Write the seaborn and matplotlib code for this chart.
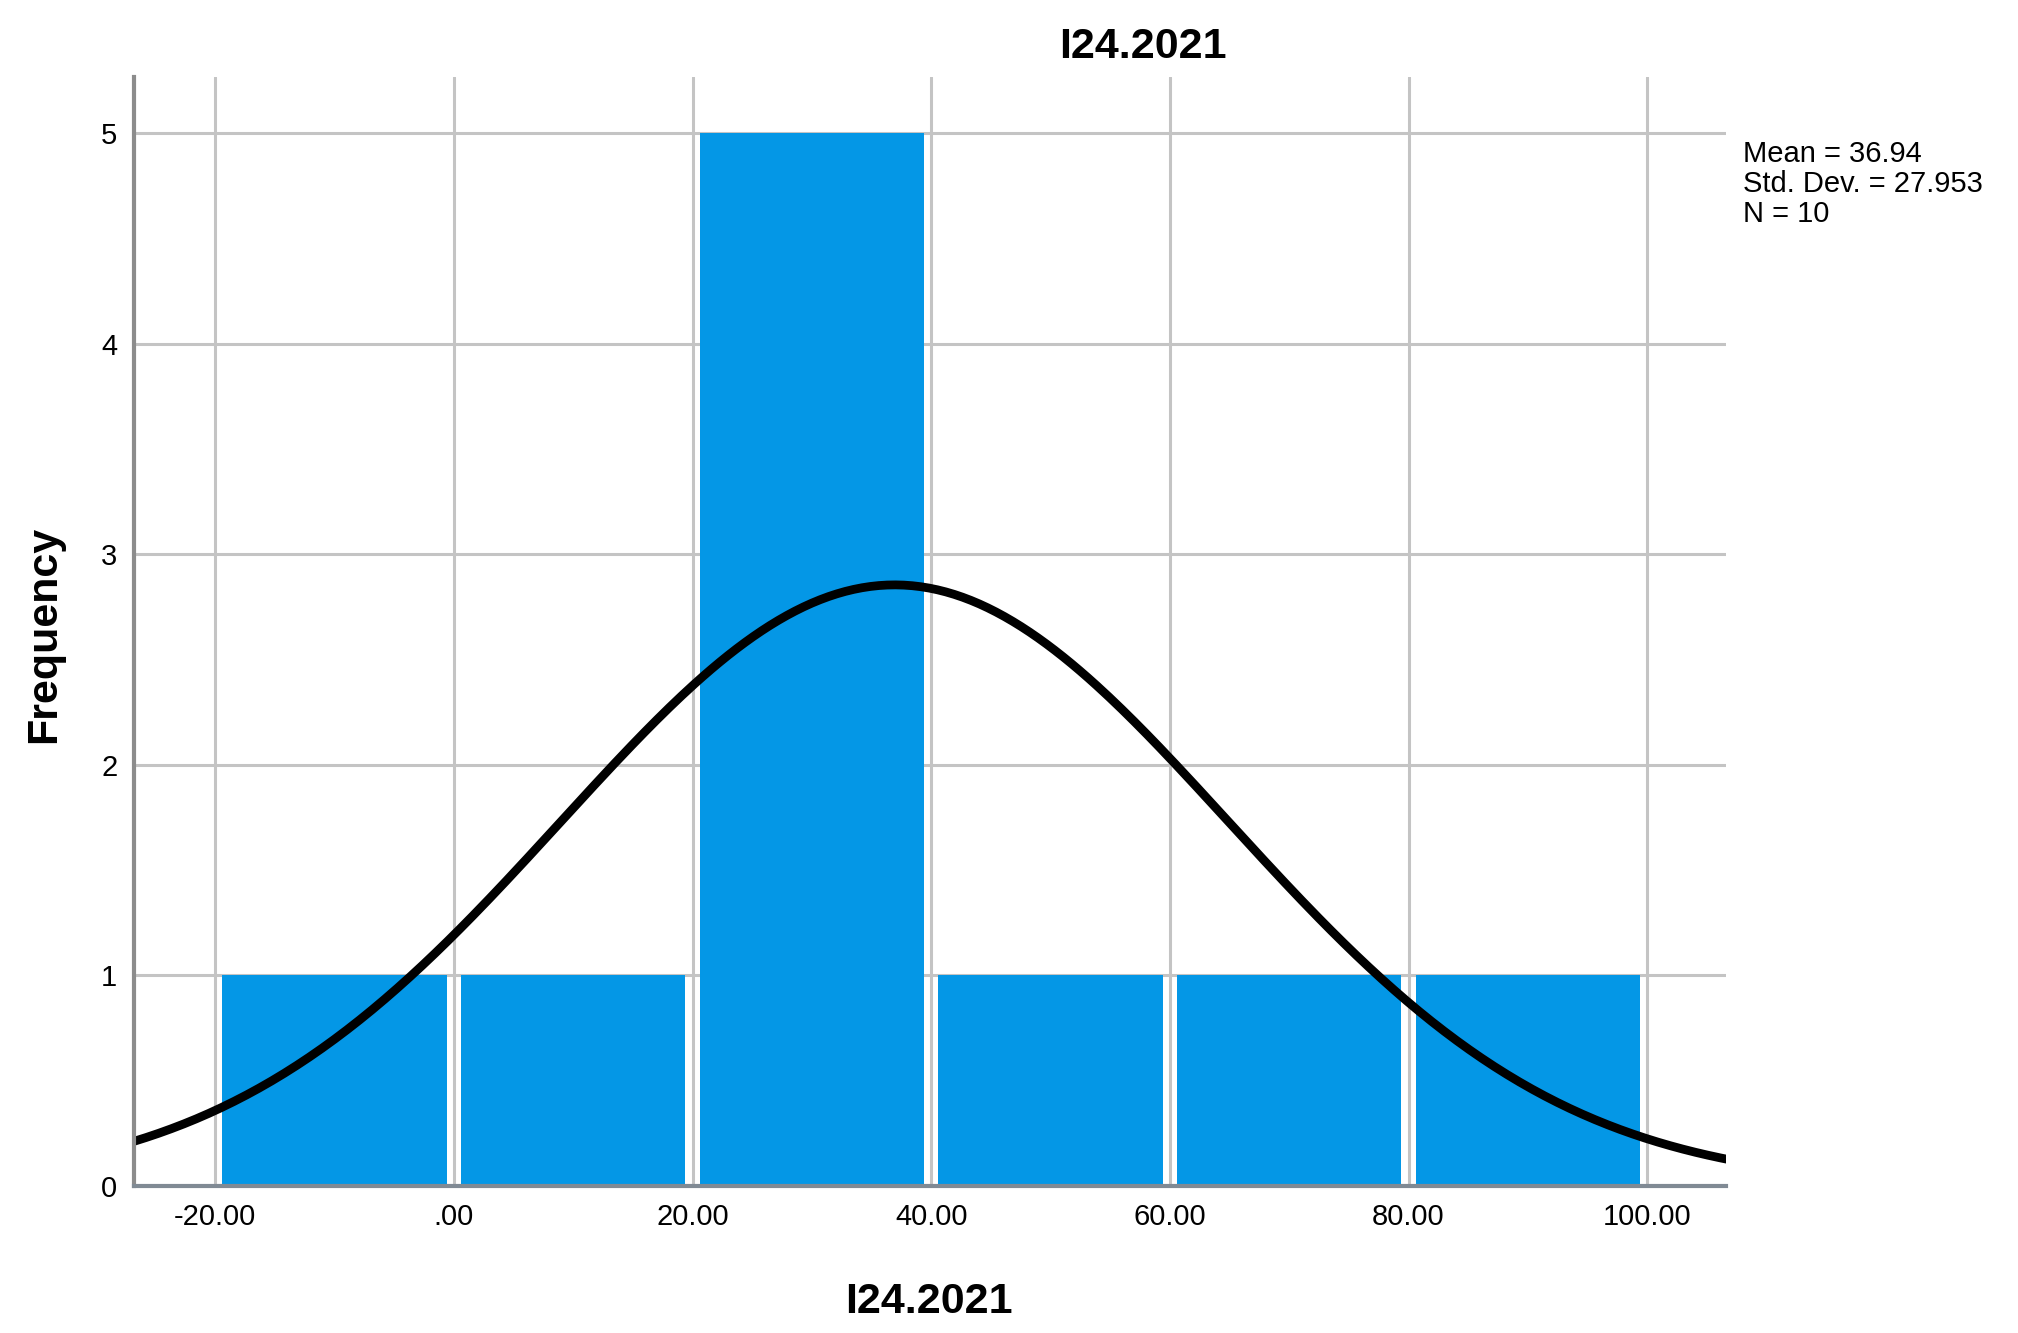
import numpy as np
import pandas as pd
import seaborn as sns
import matplotlib.pyplot as plt

sns.set_style('whitegrid')
plt.rcParams['font.family'] = ['Liberation Sans', 'DejaVu Sans']
plt.rcParams['text.color'] = 'black'

# histogram
bin_edges = [-20, 0, 20, 40, 60, 80, 100]
counts = [1, 1, 5, 1, 1, 1]
bin_mids = [-10, 10, 30, 50, 70, 90]

mean = 36.94
std_dev = 27.953
n = 10

x_ticks = [-20, 0, 20, 40, 60, 80, 100]
x_tick_labels = ['-20.00', '.00', '20.00', '40.00', '60.00', '80.00', '100.00']
y_ticks = [0, 1, 2, 3, 4, 5]
stats_lines = ['Mean = 36.94', 'Std. Dev. = 27.953', 'N = 10']

W, H = 2018, 1333
fig = plt.figure(figsize=(W / 100, H / 100), dpi=100)
ax = fig.add_axes([134 / W, 1 - 1186 / H, (1726 - 134) / W, (1186 - 77) / H])

hist_df = pd.DataFrame({'value': bin_mids, 'count': counts})
sns.histplot(data=hist_df, x='value', weights='count', bins=bin_edges,
             shrink=0.94, color='#0497e6', alpha=1, edgecolor='none',
             linewidth=0, ax=ax)

# normal curve scaled to counts (N * bin width * pdf)
width = bin_edges[1] - bin_edges[0]
xs = np.linspace(-30, 110, 400)
ys = n * width * np.exp(-0.5 * ((xs - mean) / std_dev) ** 2) / (std_dev * np.sqrt(2 * np.pi))
sns.lineplot(x=xs, y=ys, color='black', linewidth=6.3, ax=ax)

ax.set_xlim(-26.8, 106.6)
ax.set_ylim(0, 5.266)
ax.set_xticks(x_ticks)
ax.set_xticklabels(x_tick_labels)
ax.set_yticks(y_ticks)
ax.tick_params(axis='both', length=0, labelsize=21, colors='black')
ax.tick_params(axis='x', pad=12)
ax.tick_params(axis='y', pad=12)

ax.set_axisbelow(True)
ax.grid(True, color='#c4c4c4', linewidth=2.2)
for side in ['top', 'right']:
    ax.spines[side].set_visible(False)
ax.spines['left'].set_color('#8c8c8c')
ax.spines['left'].set_linewidth(3)
ax.spines['bottom'].set_color('#808a94')
ax.spines['bottom'].set_linewidth(3)

ax.set_xlabel('')
ax.set_ylabel('')
fig.text(44 / W, 1 - 634 / H, 'Frequency', rotation=90, ha='center', va='center',
         fontsize=31, fontweight='bold')
fig.text(929 / W, 1 - 1313 / H, 'I24.2021', ha='center', va='baseline',
         fontsize=31, fontweight='bold')
fig.text(1143 / W, 1 - 58 / H, 'I24.2021', ha='center', va='baseline',
         fontsize=31, fontweight='bold')

for i, line in enumerate(stats_lines):
    fig.text(1743 / W, 1 - (162 + 30 * i) / H, line, ha='left', va='baseline',
             fontsize=21)

fig.savefig('out.png', dpi=100)
